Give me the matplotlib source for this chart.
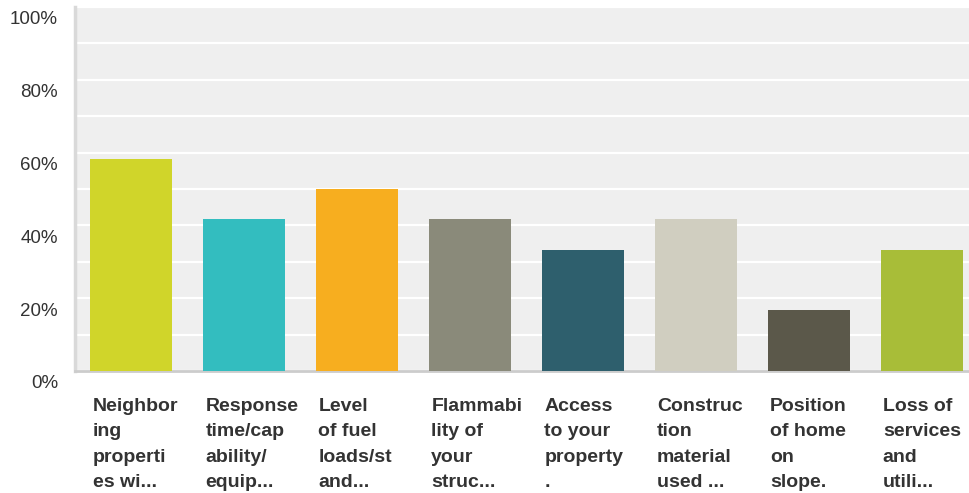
import matplotlib.pyplot as plt
from matplotlib.transforms import ScaledTranslation
import numpy as np

# survey answers (share of respondents)
labels = [
    "Neighbor\ning\nproperti\nes wi...",
    "Response\ntime/cap\nability/\nequip...",
    "Level\nof fuel\nloads/st\nand...",
    "Flammabi\nlity of\nyour\nstruc...",
    "Access\nto your\nproperty\n.",
    "Construc\ntion\nmaterial\nused ...",
    "Position\nof home\non\nslope.",
    "Loss of\nservices\nand\nutili...",
]
values = [58.33, 41.67, 50.0, 41.67, 33.33, 41.67, 16.67, 33.33]
colors = ["#d0d52a", "#33bdbf", "#f7ae1f", "#8a8a7a",
          "#2e5f6d", "#d0cec0", "#5b584a", "#a8bd38"]
yticks = [0, 20, 40, 60, 80, 100]

plt.rcParams['font.family'] = ['Liberation Sans', 'DejaVu Sans']

fig = plt.figure(figsize=(9.69, 4.93), dpi=100)
ax = fig.add_axes([75 / 969, 1 - 371 / 493, (969 - 75) / 969, 364 / 493])
ax.set_facecolor("#efefef")

x = np.arange(len(values))
width = 0.726
ax.bar(x, values, width=width, color=colors, zorder=3)

ax.set_xlim(-0.5, 7.42)
ax.set_ylim(0, 100)
ax.set_yticks(np.arange(0, 101, 10))
ax.tick_params(axis='y', length=0, labelleft=False)
ax.set_xticks([])
ax.grid(axis='y', color='white', linewidth=1.6, zorder=1)

# y labels drawn by hand so they can sit a bit under their gridline
shift = ScaledTranslation(-0.17, -0.045, fig.dpi_scale_trans)
for v in yticks:
    ax.text(0, v, f"{v}%", transform=ax.get_yaxis_transform() + shift,
            ha='right', va='top', fontsize=13.5, color='#333333', clip_on=False)

for s in ['top', 'right']:
    ax.spines[s].set_visible(False)
ax.spines['left'].set_color('#d9d9d9')
ax.spines['left'].set_linewidth(2.5)
ax.spines['bottom'].set_color('#cccccc')
ax.spines['bottom'].set_linewidth(2)

# multi-line category labels, left aligned under each bar
for xi, lab in zip(x, labels):
    ax.text(xi - width / 2 + 0.02, -0.075, lab, transform=ax.get_xaxis_transform(),
            ha='left', va='top', fontsize=14, fontweight='bold',
            color='#333333', linespacing=1.63)

fig.savefig("out.png", dpi=100)
